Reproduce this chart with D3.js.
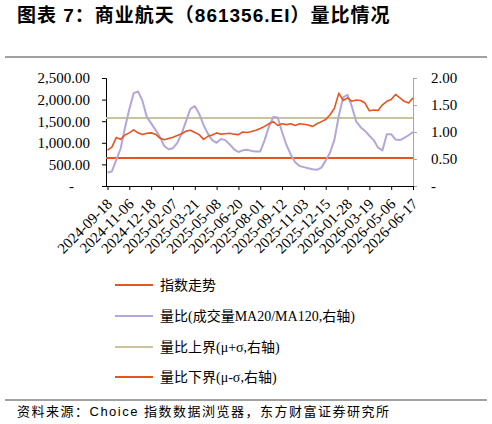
<!DOCTYPE html>
<html>
<head>
<meta charset="utf-8">
<script src="https://cdn.jsdelivr.net/npm/d3@7"></script>
<style>
  body { margin: 0; background: #fff; }
  svg { display: block; }
</style>
</head>
<body>
<div id="chart_area"></div>
<script>
// tick labels on the category axis (one every ~30 trading days)
const dates = ['2024-09-18', '2024-11-06', '2024-12-18', '2025-02-07', '2025-03-21',
  '2025-05-08', '2025-06-20', '2025-08-01', '2025-09-12', '2025-11-03',
  '2025-12-15', '2026-01-28', '2026-03-19', '2026-05-06', '2026-06-17'];

// 指数走势 (left axis), sampled 5 points per tick interval
const indexLevel = [
  830, 900, 1120, 1080, 1180, 1230, 1300, 1230, 1190, 1220,
  1230, 1200, 1110, 1070, 1100, 1130, 1170, 1210, 1270, 1290,
  1240, 1190, 1080, 1150, 1180, 1230, 1200, 1210, 1220, 1200,
  1190, 1250, 1240, 1260, 1290, 1330, 1380, 1440, 1490, 1400,
  1440, 1420, 1440, 1400, 1440, 1430, 1410, 1380, 1440, 1490,
  1540, 1650, 1800, 2150, 1980, 2040, 1960, 1990, 1980, 1920,
  1740, 1760, 1750, 1880, 1960, 2000, 2120, 2040, 1960, 1920,
  2040];

// 量比 MA20/MA120 (right axis)
const volRatio = [
  0.25, 0.27, 0.48, 0.69, 1.08, 1.42, 1.72, 1.75, 1.58, 1.28,
  1.16, 1.04, 0.91, 0.74, 0.68, 0.70, 0.80, 0.97, 1.20, 1.43,
  1.48, 1.34, 1.13, 0.97, 0.85, 0.80, 0.87, 0.85, 0.77, 0.68,
  0.63, 0.66, 0.67, 0.65, 0.64, 0.64, 0.85, 1.10, 1.28, 1.27,
  1.00, 0.76, 0.58, 0.44, 0.37, 0.35, 0.33, 0.31, 0.30, 0.34,
  0.47, 0.62, 0.86, 1.30, 1.64, 1.69, 1.47, 1.19, 1.09, 1.02,
  0.93, 0.85, 0.71, 0.66, 0.96, 0.96, 0.86, 0.85, 0.89, 0.94,
  1.00];

const upperBound = 1.26; // μ+σ
const lowerBound = 0.52; // μ-σ

const leftTicks = [0, 500, 1000, 1500, 2000, 2500];
const rightTicks = [0, 0.5, 1, 1.5, 2];

const legendItems = [
  { label: '指数走势', color: '#e8541e' },
  { label: '量比(成交量MA20/MA120,右轴)', color: '#b4a6d8' },
  { label: '量比上界(μ+σ,右轴)', color: '#cbc39c' },
  { label: '量比下界(μ-σ,右轴)', color: '#e8541e' },
];

const W = 492, H = 424;
const plot = { left: 106, right: 413, top: 78, bottom: 186 };
const perTick = 5;
const serif = '"Liberation Serif", "Times New Roman", "Noto Sans CJK SC", serif';
const cjk = '"Liberation Serif", "Noto Sans CJK SC", serif';
const sans = '"Liberation Sans", Arial, "Noto Sans CJK SC", sans-serif';

const svg = d3.select('#chart_area').append('svg')
  .attr('width', W).attr('height', H);

// title + rules
svg.append('text')
  .attr('x', 17).attr('y', 22)
  .attr('font-family', sans)
  .attr('font-size', 19).attr('font-weight', 'bold')
  .attr('letter-spacing', 1)
  .text('图表 7：商业航天（861356.EI）量比情况');
svg.append('line').attr('x1', 5).attr('x2', 487).attr('y1', 57).attr('y2', 57)
  .attr('stroke', '#444').attr('stroke-width', 1);
svg.append('line').attr('x1', 5).attr('x2', 487).attr('y1', 400).attr('y2', 400)
  .attr('stroke', '#444').attr('stroke-width', 1);
svg.append('text')
  .attr('x', 17).attr('y', 416)
  .attr('font-family', sans)
  .attr('font-size', 13).attr('letter-spacing', 1.5)
  .text('资料来源：Choice 指数数据浏览器，东方财富证券研究所');

// scales
const x = d3.scaleLinear()
  .domain([0, (dates.length - 1) * perTick])
  .range([plot.left + 1.5, plot.right]);
const yL = d3.scaleLinear().domain([0, 2500]).range([plot.bottom, plot.top]);
const yR = d3.scaleLinear().domain([0, 2]).range([plot.bottom, plot.top]);

// left axis
const leftAxis = svg.append('g')
  .attr('transform', 'translate(' + plot.left + ',0)')
  .call(d3.axisLeft(yL).tickValues(leftTicks).tickSize(4).tickPadding(12)
    .tickFormat(d => d === 0 ? '-' : d3.format(',.2f')(d)));
leftAxis.select('.domain').attr('stroke', '#000');
leftAxis.selectAll('text')
  .attr('font-family', serif).attr('font-size', 15).attr('fill', '#000')
  .attr('dx', d => d === 0 ? -16 : 0);

// right axis
const rightAxis = svg.append('g')
  .attr('transform', 'translate(' + plot.right + ',0)')
  .call(d3.axisRight(yR).tickValues(rightTicks).tickSize(4).tickPadding(14)
    .tickFormat(d => d === 0 ? '-' : d3.format('.2f')(d)));
rightAxis.select('.domain').attr('stroke', '#a6a6a6');
rightAxis.selectAll('.tick line').attr('stroke', '#a6a6a6');
rightAxis.selectAll('text')
  .attr('font-family', serif).attr('font-size', 15).attr('fill', '#000');

// bottom axis
const tickIdx = dates.map((d, i) => i * perTick);
const bottomAxis = svg.append('g')
  .attr('transform', 'translate(0,' + plot.bottom + ')')
  .call(d3.axisBottom(x).tickValues(tickIdx).tickSize(4)
    .tickFormat((d, i) => dates[i]));
bottomAxis.select('.domain').attr('d', 'M' + plot.left + ',0.5H' + plot.right);
bottomAxis.selectAll('.tick line').attr('stroke', '#000');
bottomAxis.selectAll('text')
  .attr('font-family', serif).attr('font-size', 15).attr('fill', '#000')
  .attr('text-anchor', 'end')
  .attr('transform', 'translate(5,19) rotate(-45)')
  .attr('x', 0).attr('y', 0).attr('dy', 0);

// bound lines
svg.append('line')
  .attr('x1', plot.left).attr('x2', plot.right)
  .attr('y1', yR(upperBound)).attr('y2', yR(upperBound))
  .attr('stroke', legendItems[2].color).attr('stroke-width', 2);
svg.append('line')
  .attr('x1', plot.left).attr('x2', plot.right)
  .attr('y1', yR(lowerBound)).attr('y2', yR(lowerBound))
  .attr('stroke', legendItems[3].color).attr('stroke-width', 2);

// series
const lineR = d3.line().x((d, i) => x(i)).y(d => yR(d));
const lineL = d3.line().x((d, i) => x(i)).y(d => yL(d));
svg.append('path').datum(volRatio)
  .attr('d', lineR).attr('fill', 'none')
  .attr('stroke', legendItems[1].color).attr('stroke-width', 2)
  .attr('stroke-linejoin', 'round');
svg.append('path').datum(indexLevel)
  .attr('d', lineL).attr('fill', 'none')
  .attr('stroke', legendItems[0].color).attr('stroke-width', 1.6)
  .attr('stroke-linejoin', 'round');

// legend
const legendY = [285, 316, 347, 377];
const legend = svg.append('g');
legendItems.forEach(function(item, i) {
  legend.append('line')
    .attr('x1', 115).attr('x2', 153)
    .attr('y1', legendY[i]).attr('y2', legendY[i])
    .attr('stroke', item.color).attr('stroke-width', 2);
  legend.append('text')
    .attr('x', 160).attr('y', legendY[i] + 5)
    .attr('font-family', cjk).attr('font-size', 14)
    .text(item.label);
});
</script>
</body>
</html>
